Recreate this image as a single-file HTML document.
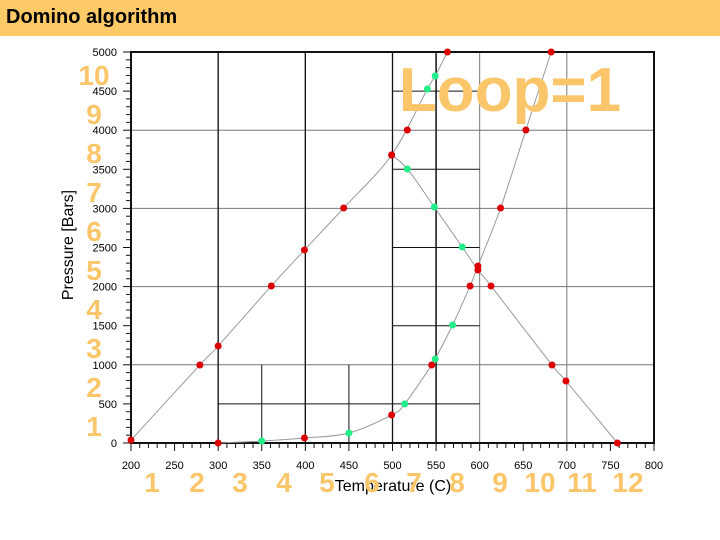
<!DOCTYPE html>
<html><head><meta charset="utf-8"><style>
body{margin:0;width:720px;height:540px;background:#fff;overflow:hidden;font-family:"Liberation Sans",sans-serif}
#bar{position:absolute;left:0;top:0;width:720px;height:36px;background:#fdca67}
#bar span{position:absolute;left:6px;top:6px;font-weight:bold;font-size:20px;color:#000}
</style></head><body>
<div id="bar"><span>Domino algorithm</span></div>
<svg id="c" width="720" height="540" style="position:absolute;left:0;top:0"></svg>
<script>
const curveAT=[200,279,300,361,399,444,499,517,563];
const curveAP=[38,997,1240,2008,2468,3005,3683,4003,5000];
const curveBT=[300,350,399,450,499,514,545,549,569,589,598,624,653,682];
const curveBP=[0,25,64,128,358,500,997,1074,1509,2008,2263,3005,4003,5000];
const curveBGreen=[0,1,0,1,0,1,0,1,1,0,0,0,0,0];
const curveCT=[499,517,548,580,598,613,683,699,758];
const curveCP=[3683,3504,3018,2506,2212,2008,997,793,0];
const curveCGreen=[0,1,1,1,0,0,0,0,0];
const greenAT=[540,549];
const greenAP=[4527,4693];
const xTicks=[200,250,300,350,400,450,500,550,600,650,700,750,800];
const yTicks=[0,500,1000,1500,2000,2500,3000,3500,4000,4500,5000];
const x=v=>131+(v-200)*523/600, y=v=>443-v*391/5000;
const s=document.getElementById('c'),NS='http://www.w3.org/2000/svg';
function el(t,a,p){const e=document.createElementNS(NS,t);for(const k in a)e.setAttribute(k,a[k]);(p||s).appendChild(e);return e;}
function line(x1,y1,x2,y2,c,w,n){const e=el('line',{x1,y1,x2,y2,stroke:c,'stroke-width':w});

}
[300,400,500,600,700].forEach(v=>line(x(v),y(0),x(v),y(5000),'#777',1,'grid-x'));
[1000,2000,3000,4000].forEach(v=>line(x(200),y(v),x(800),y(v),'#777',1,'grid-y'));
[300,400,500].forEach(v=>line(x(v),y(0),x(v),y(5000),'#111',1.3,'domino-vertical'));
line(x(550),y(0),x(550),y(5000),'#111',1.5,'domino-vertical');
[350,450].forEach(v=>line(x(v),y(0),x(v),y(1000),'#111',1,'domino-vertical-short'));
[1500,2500,3500,4500].forEach(v=>line(x(500),y(v),x(600),y(v),'#111',1,'domino-horizontal'));
line(x(300),y(500),x(600),y(500),'#111',1,'domino-horizontal');
const fr=el('rect',{x:x(200),y:y(5000),width:x(800)-x(200),height:y(0)-y(5000),fill:'none',stroke:'#111','stroke-width':2});


for(let v=0;v<=5000;v+=100){line(x(200)-(v%500?5:8),y(v),x(200),y(v),'#111',1,'y-tick');}
for(let v=200;v<=800;v+=10){line(x(v),y(0),x(v),y(0)+(v%50?5:8),'#111',1,'x-tick');}
yTicks.forEach(v=>{const t=el('text',{x:x(200)-14,y:y(v)+4,'text-anchor':'end','font-size':11});t.textContent=v;

});
xTicks.forEach(v=>{const t=el('text',{x:x(v),y:y(0)+26,'text-anchor':'middle','font-size':11});t.textContent=v;

});
function curve(T,P,n){
const pts=T.map((t,i)=>[x(t),y(P[i])]);
let d='M'+pts[0][0]+','+pts[0][1];
for(let i=0;i<pts.length-1;i++){const p0=pts[Math.max(0,i-1)],p1=pts[i],p2=pts[i+1],p3=pts[Math.min(pts.length-1,i+2)];
d+=' C'+(p1[0]+(p2[0]-p0[0])/6)+','+(p1[1]+(p2[1]-p0[1])/6)+' '+(p2[0]-(p3[0]-p1[0])/6)+','+(p2[1]-(p3[1]-p1[1])/6)+' '+p2[0]+','+p2[1];}
const p=el('path',{d,fill:'none',stroke:'#999','stroke-width':1});

}
curve(curveAT.slice(0,7).concat(greenAT,[563]),curveAP.slice(0,7).concat(greenAP,[5000]),'curve-a');
curve(curveBT,curveBP,'curve-b');
curve(curveCT,curveCP,'curve-c');
function pt(t,p,g){const c=el('circle',{cx:x(t),cy:y(p),r:3.5,fill:g?'#22ee88':'#dd0000'});

}
curveAT.forEach((t,i)=>pt(t,curveAP[i],0));
greenAT.forEach((t,i)=>pt(t,greenAP[i],1));
curveBT.forEach((t,i)=>pt(t,curveBP[i],curveBGreen[i]));
curveCT.forEach((t,i)=>pt(t,curveCP[i],curveCGreen[i]));
let t=el('text',{x:393,y:491,'text-anchor':'middle','font-size':16});t.textContent='Temperature (C)';


t=el('text',{x:73,y:245,'text-anchor':'middle','font-size':16,transform:'rotate(-90 73 245)'});t.textContent='Pressure [Bars]';


const orange='#fbc66a';
for(let i=1;i<=10;i++){const e=el('text',{x:94,y:436-(i-1)*39,'text-anchor':'middle','font-size':28,'font-weight':'bold',fill:orange});e.textContent=i;

}
const bx=[152,197,240,284,327,372,414,457,500,540,582,628];
bx.forEach((v,i)=>{const e=el('text',{x:v,y:492,'text-anchor':'middle','font-size':28,'font-weight':'bold',fill:orange});e.textContent=i+1;

});
t=el('text',{x:510,y:111,'text-anchor':'middle','font-size':62,'font-weight':'bold',fill:orange});t.textContent='Loop=1';


</script>
</body></html>
